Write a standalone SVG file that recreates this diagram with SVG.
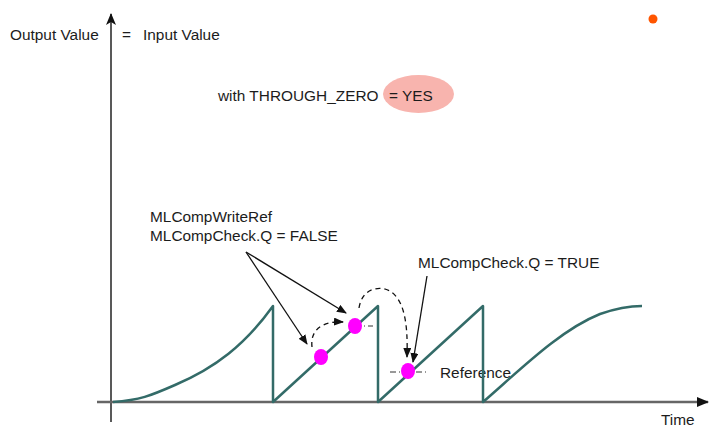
<svg xmlns="http://www.w3.org/2000/svg" width="709" height="429" viewBox="0 0 709 429">
<defs>
<marker id="ah" markerWidth="10" markerHeight="8" refX="9" refY="4" orient="auto" markerUnits="userSpaceOnUse"><path d="M0,0 L10,4 L0,8 Z" fill="#111"/></marker>
<marker id="axh" markerWidth="12" markerHeight="10" refX="11" refY="5" orient="auto" markerUnits="userSpaceOnUse"><path d="M0,0 L12,5 L0,10 L3,5 Z" fill="#111"/></marker>
</defs>
<style>
text{font-family:"Liberation Sans",Arial,sans-serif;font-size:15.4px;fill:#1c1c1c}
.curve{fill:none;stroke:#336b68;stroke-width:2.5;stroke-linejoin:round}
.dot{fill:#ff00ff}
.dd{stroke:#333;stroke-width:1;stroke-dasharray:6,3,1,3;fill:none}
.dash{stroke:#111;stroke-width:1.3;stroke-dasharray:5,4;fill:none}
.arr{stroke:#111;stroke-width:1.3;fill:none}
</style>
<rect width="709" height="429" fill="#fff"/>
<g id="axes">
<line x1="111" y1="422" x2="111" y2="14" stroke="#222" stroke-width="1.5" marker-end="url(#axh)"/>
<line x1="97" y1="402" x2="708" y2="402" stroke="#666" stroke-width="2.5"/>
<path d="M697,397 L709,402 L697,407 Z" fill="#111"/>
</g>
<g id="labels">
<text x="10" y="40">Output Value</text>
<text x="122" y="40">=</text>
<text x="143" y="40">Input Value</text>
<ellipse cx="418.5" cy="94" rx="35.5" ry="19" fill="#f8b4ae"/>
<text x="218" y="101">with THROUGH_ZERO</text>
<text x="389" y="101">= YES</text>
<text x="150" y="222">MLCompWriteRef</text>
<text x="150" y="241">MLCompCheck.Q = FALSE</text>
<text x="418" y="268">MLCompCheck.Q = TRUE</text>
<text x="440" y="378">Reference</text>
<text x="661" y="425">Time</text>
<circle cx="653" cy="19" r="4.5" fill="#ff5500"/>
</g>
<g id="signal">
<path class="curve" d="M113,402 C140,400 150,396 175,385 C215,368 245,345 273,306 L273,402 L378,306 L378,402 L483,306 L483,402 C520,370 560,330 600,314 C620,307 632,306 642,306"/>
</g>
<g id="connectors">
<line class="dd" x1="355" y1="326" x2="373" y2="326"/>
<line class="dd" x1="390" y1="372" x2="428" y2="372"/>
<path class="dash" d="M312,347 C310,330 322,321 343,322" marker-end="url(#ah)"/>
<path class="dash" d="M359,308 C362,290 375,287 385,289 C405,295 408,325 407,357" marker-end="url(#ah)"/>
<line class="arr" x1="246" y1="252" x2="307" y2="344" marker-end="url(#ah)"/>
<line class="arr" x1="246" y1="252" x2="346" y2="313" marker-end="url(#ah)"/>
<line class="arr" x1="427" y1="276" x2="413" y2="362" marker-end="url(#ah)"/>
</g>
<g id="points">
<ellipse class="dot" cx="321" cy="357" rx="7" ry="8"/>
<ellipse class="dot" cx="355" cy="326" rx="7" ry="8"/>
<ellipse class="dot" cx="408" cy="371" rx="7" ry="8"/>
</g>
</svg>
